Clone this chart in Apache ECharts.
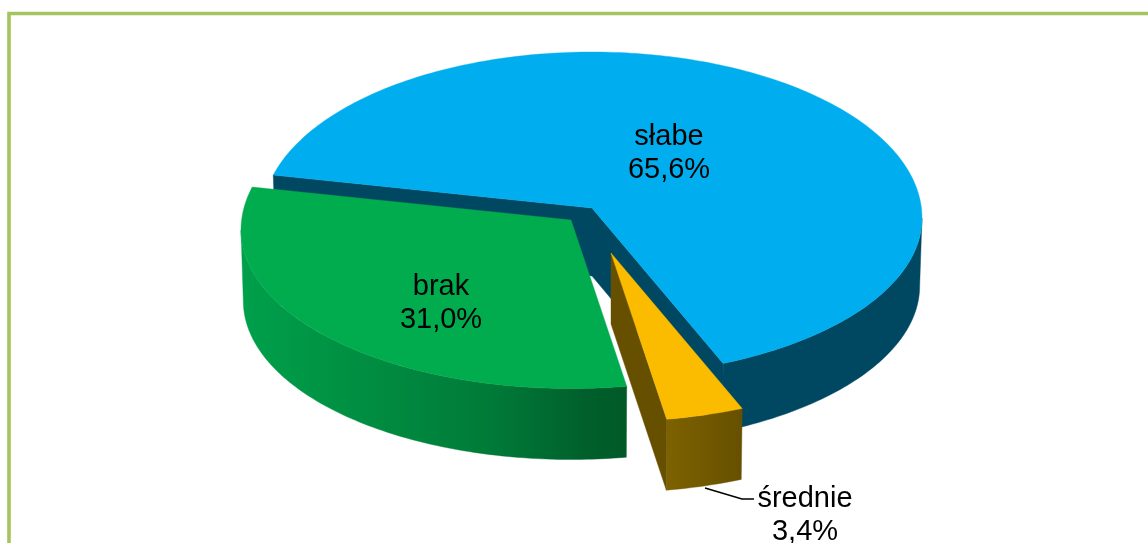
<!DOCTYPE html>
<html>
<head>
<meta charset="utf-8">
<style>html,body{margin:0;padding:0;background:#fff}#c{width:1148px;height:543px}</style>
<script src="https://cdn.jsdelivr.net/npm/echarts@6/dist/echarts.min.js"></script>
</head>
<body>
<div id="c"></div>
<script>
// Data
const categories = ['słabe', 'brak', 'średnie'];
const shares = [65.6, 31.0, 3.4];

// Style
const topColors = ['#00AEEF', '#00AC4E', '#FBBC00'];
const sideStops = [
  [[0, '#004862'], [1, '#004862']],
  [[0, '#00A04B'], [0.3, '#008F42'], [0.65, '#007A38'], [0.9, '#005F2B'], [1, '#005A28']],
  [[0, '#7E6200'], [1, '#665000']]
];
const radialWall = ['#004862', null, '#665000'];
const frameColor = '#A5C45F';

// Pseudo-3D pie geometry (exploded slice apexes, tilt, perspective)
const apexes = [[592, 208], [571, 220], [611, 253]];
const depths = [68, 71, 71];
const labelAt = [[669, 153], [441, 303], [805, 515]];
const RX = 330, RY_BACK = 166, RY_FRONT = 158.5, CENTRE_DROP = 10, SHRINK = 0.993, START = -77;
const leader = [[705, 488], [742, 499], [754, 499]];

const total = shares.reduce((a, b) => a + b, 0);
// perspective shifts a slice edge's apparent angle round the rim
function warp(deg) {
  const a = deg * Math.PI / 180;
  return deg - 3.06 * Math.sin(a) + 2.25 * Math.sin(2 * a);
}
function sliceAngles(i) {
  let s = START;
  // drawn clockwise: słabe, then średnie, then brak
  const order = [0, 2, 1];
  for (const k of order) {
    const sweep = shares[k] / total * 360;
    if (k === i) return [warp(s), warp(s + sweep)];
    s += sweep;
  }
}
function rim(i, deg, down) {
  const a = deg * Math.PI / 180, X = Math.sin(a), Y = -Math.cos(a);
  const sh = down ? SHRINK : 1;
  return [
    apexes[i][0] + RX * X * sh,
    apexes[i][1] + CENTRE_DROP + (Y < 0 ? RY_BACK : RY_FRONT) * Y + (down ? depths[i] : 0)
  ];
}
function arc(i, from, to, down) {
  const pts = [], n = Math.max(2, Math.ceil(Math.abs(to - from)));
  for (let j = 0; j <= n; j++) pts.push(rim(i, from + (to - from) * j / n, down));
  return pts;
}
function poly(points, fill) {
  return { type: 'polygon', shape: { points }, style: { fill, stroke: fill, lineWidth: 0.4 } };
}
function renderItem(params, api) {
  const i = params.dataIndex;
  const [a0, a1] = sliceAngles(i);
  const apex = apexes[i], apexDown = [apex[0], apex[1] + depths[i]];
  const kids = [];
  const grad = { type: 'linear', x: 0, y: 0, x2: 1, y2: 0,
    colorStops: sideStops[i].map(s => ({ offset: s[0], color: s[1] })) };
  // outer wall: only the part facing the viewer
  const w0 = Math.max(a0, 90), w1 = Math.min(a1, 270);
  kids.push(poly(arc(i, w0, w1, false).concat(arc(i, w1, w0, true)), grad));
  // radial cut faces
  if (radialWall[i]) {
    const c = radialWall[i];
    if (i === 0) {
      kids.push(poly([apex, rim(i, a0, false), rim(i, a0, true), apexDown], c));
      kids.push(poly([apex, rim(i, a1, false), rim(i, a1, true), apexDown], c));
    } else {
      kids.push(poly([apex, rim(i, a1, false), rim(i, a1, true), apexDown], c));
    }
  }
  // top face
  kids.push(poly([apex].concat(arc(i, a0, a1, false)), topColors[i]));
  // label
  if (i === 2) {
    kids.push({ type: 'polyline', shape: { points: leader }, style: { fill: null, stroke: '#000', lineWidth: 1.5 } });
  }
  kids.push({
    type: 'text',
    style: {
      x: labelAt[i][0], y: labelAt[i][1],
      text: categories[i] + '\n' + api.value(0).toFixed(1).replace('.', ',') + '%',
      font: '29px "Liberation Sans"', fill: '#000',
      align: 'center', verticalAlign: 'middle', lineHeight: 33
    }
  });
  return { type: 'group', children: kids };
}

const chart = echarts.init(document.getElementById('c'), null, { renderer: 'canvas' });
chart.setOption({
  animation: false,
  backgroundColor: '#fff',
  graphic: [{
    type: 'rect', silent: true,
    shape: { x: 9, y: 13.5, width: 1400, height: 800 },
    style: { fill: null, stroke: frameColor, lineWidth: 3.6 }
  }],
  series: [{
    type: 'custom',
    coordinateSystem: 'none',
    renderItem,
    data: shares.map((v, i) => ({ name: categories[i], value: [v] }))
  }]
});
</script>
</body>
</html>
